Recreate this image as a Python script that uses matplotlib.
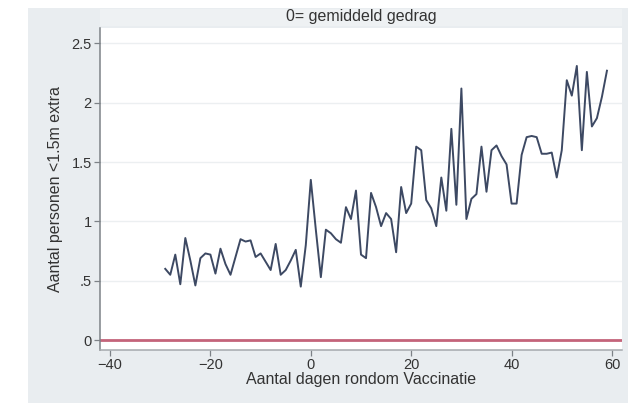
import numpy as np
import matplotlib.pyplot as plt
from matplotlib.patches import Rectangle

# dagen rond de vaccinatie en gemiddeld aantal extra personen binnen 1.5m
dagen = list(range(-29, 60))
personen = [
    0.60, 0.55, 0.72, 0.47, 0.86, 0.67, 0.46, 0.69, 0.73, 0.72,
    0.56, 0.77, 0.64, 0.55, 0.70, 0.85, 0.83, 0.84, 0.70, 0.73,
    0.66, 0.59, 0.81, 0.55, 0.59, 0.67, 0.76, 0.45, 0.80, 1.35,
    0.93, 0.53, 0.93, 0.90, 0.85, 0.82, 1.12, 1.02, 1.26, 0.72,
    0.69, 1.24, 1.12, 0.96, 1.07, 1.02, 0.74, 1.29, 1.07, 1.15,
    1.63, 1.60, 1.18, 1.11, 0.96, 1.37, 1.09, 1.78, 1.14, 2.12,
    1.02, 1.19, 1.23, 1.63, 1.25, 1.60, 1.64, 1.55, 1.48, 1.15,
    1.15, 1.56, 1.71, 1.72, 1.71, 1.57, 1.57, 1.58, 1.37, 1.60,
    2.19, 2.06, 2.31, 1.60, 2.26, 1.80, 1.87, 2.05, 2.27,
]
y_ticks = [0, 0.5, 1, 1.5, 2, 2.5]
y_ticklabels = ['0', '.5', '1', '1.5', '2', '2.5']
x_ticks = [-40, -20, 0, 20, 40, 60]

plt.rcParams['font.family'] = ['Liberation Sans', 'DejaVu Sans']
W, H = 636, 407
fig = plt.figure(figsize=(W / 100, H / 100), dpi=100)
fig.patch.set_facecolor('white')


def px_rect(x0, y0, x1, y1, **kw):
    # rechthoek in pixelcoordinaten (y van boven)
    r = Rectangle((x0 / W, 1 - y1 / H), (x1 - x0) / W, (y1 - y0) / H,
                  transform=fig.transFigure, zorder=-5, **kw)
    fig.patches.append(r)


px_rect(28, 8, 628, 403, facecolor='#e9edf0', edgecolor='none')
px_rect(100, 9, 622, 26, facecolor='#eef1f3', edgecolor='none')

left, right, top, bottom = 100, 622, 28, 350
ax = fig.add_axes([left / W, 1 - bottom / H, (right - left) / W, (bottom - top) / H])
ax.set_zorder(2)
ax.set_facecolor('white')

ax.plot(dagen, personen, color='#3d4963', linewidth=1.4, zorder=3)
ax.axhline(0, color='#c4647a', linewidth=2.0, zorder=2)

ax.set_xlim(-42, 62)
ax.set_ylim(-0.084, 2.63)
ax.set_yticks(y_ticks)
ax.set_yticklabels(y_ticklabels)
ax.set_xticks(x_ticks)
ax.grid(axis='y', color='#eceff1', linewidth=1.0, zorder=1)
ax.set_axisbelow(True)

for s in ['top', 'right']:
    ax.spines[s].set_visible(False)
ax.spines['left'].set_color('#7d8287')
ax.spines['bottom'].set_color('#a4a9ad')
ax.spines['left'].set_linewidth(1.1)
ax.spines['bottom'].set_linewidth(1.1)

ax.tick_params(axis='both', direction='out', length=4, width=0.9,
               color='#7d8287', labelsize=10.5, labelcolor='#333333', pad=2)
ax.tick_params(axis='x', pad=1.5)

ax.set_xlabel('Aantal dagen rondom Vaccinatie', fontsize=11.5, color='#333333', labelpad=0.5)
ax.set_ylabel('Aantal personen <1.5m extra', fontsize=11.5, color='#333333', labelpad=6)

fig.text((left + right) / 2 / W, 1 - 17 / H, '0= gemiddeld gedrag',
         ha='center', va='center', fontsize=11.5, color='#333333')

plt.savefig('out.png', dpi=100)
plt.close()
